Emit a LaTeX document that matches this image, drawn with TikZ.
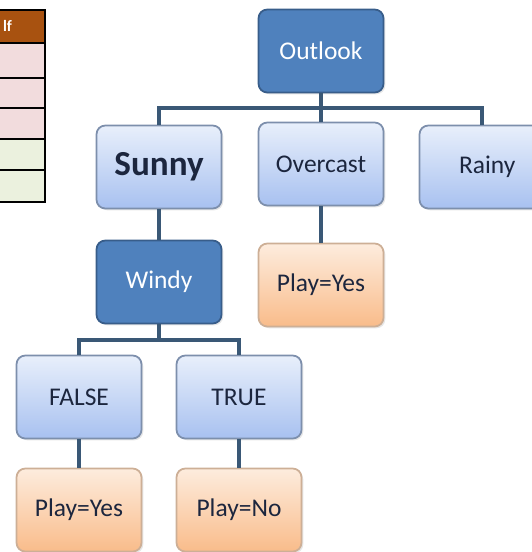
\documentclass[tikz,border=0pt]{standalone}
\usepackage{fontspec}
\setmainfont{Carlito}
\usetikzlibrary{shadows}
\definecolor{darkfill}{RGB}{79,129,189}
\definecolor{darkedge}{RGB}{56,93,138}
\definecolor{lighttop}{RGB}{232,239,251}
\definecolor{lightbot}{RGB}{168,193,240}
\definecolor{lightedge}{RGB}{125,143,172}
\definecolor{leaftop}{RGB}{253,236,222}
\definecolor{leafbot}{RGB}{249,188,138}
\definecolor{leafedge}{RGB}{205,175,150}
\definecolor{linkcolor}{RGB}{58,88,118}
\definecolor{headbrown}{RGB}{168,82,16}
\definecolor{rowpink}{RGB}{242,220,221}
\definecolor{rowgreen}{RGB}{235,241,222}
\definecolor{textnavy}{RGB}{28,38,62}

\begin{document}
\begin{tikzpicture}[
    x=0.2mm, y=-0.2mm,
    base/.style={rectangle, rounded corners=5pt, minimum width=2.5cm,
                 minimum height=1.66cm, line width=1pt,
                 font=\fontsize{14.5}{17}\selectfont, align=center,
                 drop shadow={opacity=0.2, shadow xshift=1pt, shadow yshift=-1pt}},
    attr/.style={base, draw=darkedge, fill=darkfill, text=white},
    value/.style={base, draw=lightedge, top color=lighttop, bottom color=lightbot,
                  text=textnavy},
    leaf/.style={base, draw=leafedge, top color=leaftop, bottom color=leafbot,
                 text=textnavy},
    link/.style={draw=linkcolor, line width=2pt}
]
\clip (0,0) rectangle (532,552);

% Table (cut at the left edge)
\fill[headbrown] (-20,10) rectangle (45,43);
\fill[rowpink] (-20,43) rectangle (45,139);
\fill[rowgreen] (-20,139) rectangle (45,202);
\foreach \y in {43,78,108,139,170}
    \draw[line width=1.2pt] (-20,\y) -- (45,\y);
\draw[line width=1.5pt] (-20,10) -- (45,10) -- (45,202) -- (-20,202);
\node[font=\bfseries\small, text=white, anchor=west, inner sep=1pt] (thead) at (1,26) {lf};

% Level 1
\node[attr] (outlook) at (321,51) {Outlook};
\node[value, font=\fontsize{20}{24}\selectfont\bfseries] (sunny) at (159,167) {Sunny};
\node[value] (overcast) at (321,164) {Overcast};
\node[value] (rainy) at (482,167) {\hspace*{6pt}Rainy};
\node[leaf] (yes1) at (321,285) {Play=Yes};

% Level 2
\node[attr] (windy) at (159,282) {Windy};
\node[value] (false) at (79,397) {FALSE};
\node[value] (true) at (239,397) {TRUE};
\node[leaf] (yes2) at (79,510) {Play=Yes};
\node[leaf] (no) at (239,510) {Play=No};

% Connectors
\coordinate (obus) at (321,108);
\coordinate (wbus) at (159,340);
\draw[link] (outlook.south) -- (obus);
\draw[link] (sunny.north) |- (obus) -| (rainy.north);
\draw[link] (overcast.north) -- (obus);
\draw[link] (overcast.south) -- (yes1.north);
\draw[link] (sunny.south) -- (windy.north);
\draw[link] (windy.south) -- (wbus);
\draw[link] (false.north) |- (wbus) -| (true.north);
\draw[link] (false.south) -- (yes2.north);
\draw[link] (true.south) -- (no.north);

\end{tikzpicture}
\end{document}
